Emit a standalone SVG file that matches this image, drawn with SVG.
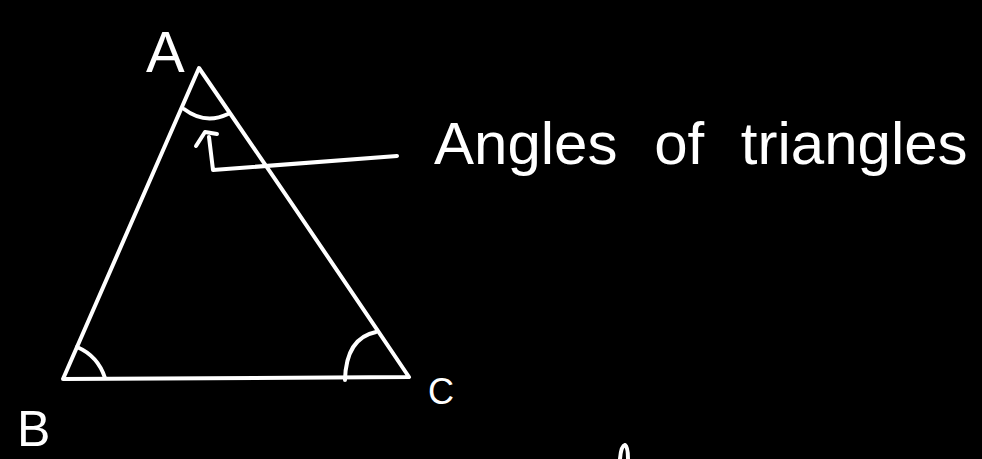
<svg xmlns="http://www.w3.org/2000/svg" width="982" height="459" viewBox="0 0 982 459">
<style>
.s{fill:none;stroke:#fff;stroke-width:4;stroke-linecap:round;stroke-linejoin:round}
.t{fill:#fff;font-family:"Liberation Sans",Arial,sans-serif}
</style>
<rect width="982" height="459" fill="#000"/>
<g id="triangle">
<path class="s" d="M63,379 L199,68 Q302,218 409,377 L63,379 Z"/>
</g>
<g id="angle-A"><path class="s" d="M184,109 Q205,125 228,114"/></g>
<g id="angle-B"><path class="s" d="M77,347 Q98,356 105,378"/></g>
<g id="angle-C"><path class="s" d="M376,332 Q346,338 345,380"/></g>
<g id="connectors">
<path class="s" d="M209,137 L213,170 L397,156"/>
<path class="s" d="M196,146 L205,132 L217,134"/>
</g>
<g id="label-A"><text class="t" x="146" y="72" font-size="58">A</text></g>
<g id="label-B"><text class="t" x="17" y="446" font-size="50">B</text></g>
<g id="label-C"><text class="t" x="428" y="404" font-size="36">C</text></g>
<g id="title">
<text class="t" x="434" y="164" font-size="60" word-spacing="20">Angles of triangles</text>
</g>
<path class="s" d="M620,459 Q621,446 625,445 Q628,447 628,459"/>
</svg>
